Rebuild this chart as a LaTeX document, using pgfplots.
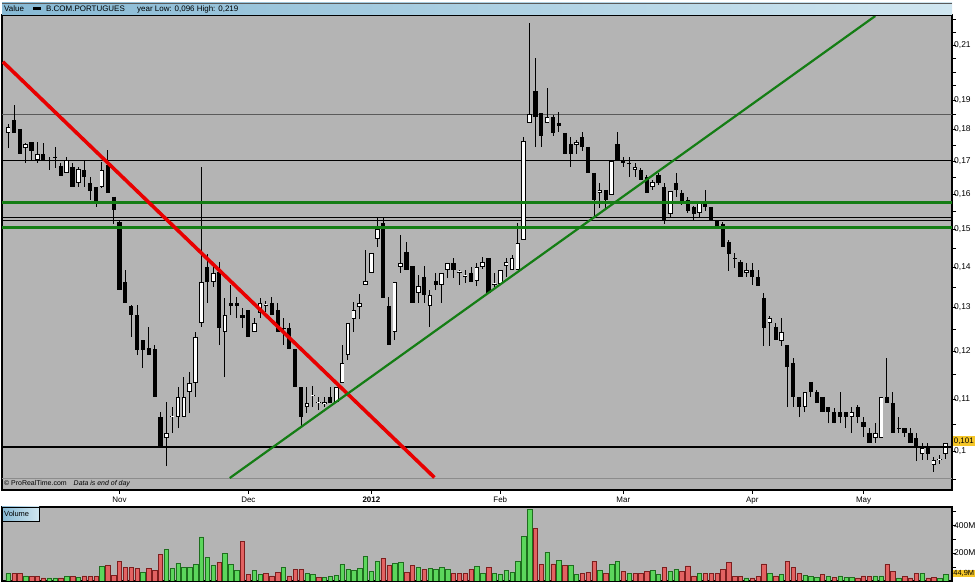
\documentclass[border=0pt]{standalone}
\usepackage{fontspec}
\setmainfont{Liberation Sans}
\usepackage{pgfplots}
\usepackage{pgfplotstable}
\pgfplotsset{compat=1.18}

\definecolor{panel}{RGB}{180,180,180}
\definecolor{hdrL}{RGB}{135,185,212}
\definecolor{hdrR}{RGB}{208,230,240}
\definecolor{lvlgreen}{RGB}{20,125,20}
\definecolor{trendred}{RGB}{232,0,0}
\definecolor{vgreen}{RGB}{92,214,92}
\definecolor{vgreenD}{RGB}{30,110,30}
\definecolor{vred}{RGB}{226,98,98}
\definecolor{vredD}{RGB}{125,30,30}
\definecolor{gold}{RGB}{245,198,40}
\definecolor{midgrey}{RGB}{90,90,90}
\definecolor{lightline}{RGB}{140,140,140}

% i = trading day (0 = 1 Nov 2011), o h l c = open high low close, v = volume (M), g = 1 if volume bar green
\pgfplotstableread{
i o h l c v g
-19 0.1789 0.1818 0.1740 0.1808 52 1
-18 0.1832 0.1883 0.1789 0.1789 56 0
-17 0.1802 0.1802 0.1722 0.1722 52 0
-16 0.1740 0.1756 0.1694 0.1753 37 1
-15 0.1759 0.1759 0.1703 0.1731 32 0
-14 0.1703 0.1759 0.1694 0.1722 32 0
-13 0.1722 0.1756 0.1703 0.1703 23 0
-12 0.1703 0.1713 0.1672 0.1700 23 1
-11 0.1713 0.1744 0.1678 0.1710 23 1
-10 0.1685 0.1694 0.1654 0.1654 23 0
-9 0.1663 0.1713 0.1663 0.1703 32 1
-8 0.1681 0.1694 0.1621 0.1621 32 0
-7 0.1633 0.1681 0.1621 0.1675 27 1
-6 0.1672 0.1703 0.1621 0.1651 37 0
-5 0.1633 0.1651 0.1583 0.1609 32 0
-4 0.1621 0.1621 0.1563 0.1574 32 0
-3 0.1621 0.1697 0.1618 0.1672 105 1
-2 0.1688 0.1734 0.1604 0.1604 112 0
-1 0.1592 0.1592 0.1515 0.1554 40 0
0 0.1520 0.1523 0.1342 0.1342 143 0
1 0.1362 0.1392 0.1311 0.1311 95 0
2 0.1304 0.1306 0.1232 0.1282 95 0
3 0.1282 0.1306 0.1192 0.1203 88 0
4 0.1225 0.1225 0.1164 0.1203 64 1
5 0.1207 0.1255 0.1192 0.1192 88 0
6 0.1205 0.1214 0.1104 0.1104 76 0
7 0.1064 0.1074 0.1007 0.1007 189 0
8 0.1024 0.1094 0.0973 0.1034 225 1
9 0.1064 0.1084 0.1034 0.1066 88 1
10 0.1064 0.1124 0.1043 0.1104 128 1
11 0.1064 0.1145 0.1064 0.1104 95 1
12 0.1114 0.1156 0.1072 0.1133 100 1
13 0.1133 0.1243 0.1104 0.1232 119 1
14 0.1264 0.1681 0.1255 0.1362 316 1
15 0.1400 0.1434 0.1311 0.1362 167 1
16 0.1362 0.1400 0.1350 0.1385 112 1
17 0.1387 0.1413 0.1214 0.1252 136 0
18 0.1243 0.1323 0.1145 0.1282 196 1
19 0.1311 0.1355 0.1282 0.1304 117 1
20 0.1311 0.1325 0.1275 0.1304 76 1
21 0.1282 0.1299 0.1252 0.1275 285 0
22 0.1294 0.1294 0.1232 0.1232 45 0
23 0.1243 0.1275 0.1243 0.1264 76 1
24 0.1287 0.1323 0.1275 0.1311 45 1
25 0.1304 0.1316 0.1290 0.1306 56 0
26 0.1311 0.1325 0.1282 0.1282 37 0
27 0.1294 0.1311 0.1243 0.1243 61 0
28 0.1252 0.1275 0.1214 0.1250 100 1
29 0.1252 0.1264 0.1205 0.1205 37 0
30 0.1205 0.1205 0.1124 0.1124 85 0
31 0.1124 0.1124 0.1045 0.1064 85 0
32 0.1084 0.1124 0.1072 0.1092 52 1
33 0.1106 0.1126 0.1084 0.1108 45 1
34 0.1092 0.1104 0.1078 0.1094 27 0
35 0.1090 0.1104 0.1084 0.1094 27 1
36 0.1104 0.1124 0.1092 0.1092 32 1
37 0.1094 0.1124 0.1094 0.1124 40 1
38 0.1133 0.1214 0.1133 0.1174 117 1
39 0.1192 0.1264 0.1181 0.1264 81 1
40 0.1273 0.1313 0.1243 0.1294 76 1
41 0.1301 0.1332 0.1273 0.1311 88 1
42 0.1355 0.1444 0.1355 0.1365 179 1
43 0.1385 0.1436 0.1385 0.1436 69 1
44 0.1474 0.1532 0.1452 0.1501 141 1
45 0.1518 0.1532 0.1323 0.1323 160 0
46 0.1304 0.1325 0.1214 0.1214 112 0
47 0.1243 0.1362 0.1225 0.1362 128 1
48 0.1400 0.1485 0.1385 0.1410 133 1
49 0.1439 0.1466 0.1392 0.1392 61 0
50 0.1402 0.1402 0.1311 0.1311 112 0
51 0.1335 0.1380 0.1311 0.1352 100 1
52 0.1375 0.1402 0.1311 0.1330 81 0
53 0.1304 0.1342 0.1255 0.1330 88 1
54 0.1365 0.1385 0.1342 0.1355 81 1
55 0.1355 0.1385 0.1311 0.1385 95 1
56 0.1392 0.1410 0.1372 0.1410 85 1
57 0.1410 0.1423 0.1372 0.1392 56 0
58 0.1385 0.1392 0.1355 0.1387 52 0
59 0.1375 0.1392 0.1360 0.1377 52 0
60 0.1385 0.1400 0.1362 0.1362 81 0
61 0.1365 0.1410 0.1352 0.1400 105 1
62 0.1400 0.1426 0.1395 0.1413 56 1
63 0.1423 0.1423 0.1335 0.1335 100 0
64 0.1355 0.1385 0.1350 0.1357 52 1
65 0.1357 0.1392 0.1357 0.1392 47 1
66 0.1402 0.1423 0.1375 0.1413 76 1
67 0.1392 0.1431 0.1392 0.1423 61 1
68 0.1392 0.1518 0.1392 0.1463 143 1
69 0.1471 0.1776 0.1471 0.1763 321 1
70 0.1822 0.2187 0.1822 0.1852 514 1
71 0.1931 0.2052 0.1744 0.1842 376 0
72 0.1855 0.1855 0.1744 0.1779 119 0
73 0.1822 0.1942 0.1822 0.1842 205 1
74 0.1842 0.1848 0.1779 0.1789 123 0
75 0.1822 0.1858 0.1792 0.1812 148 1
76 0.1789 0.1789 0.1722 0.1722 114 0
77 0.1753 0.1776 0.1681 0.1722 114 1
78 0.1750 0.1766 0.1722 0.1759 47 1
79 0.1776 0.1792 0.1731 0.1744 56 0
80 0.1744 0.1744 0.1663 0.1663 64 0
81 0.1663 0.1663 0.1534 0.1583 141 0
82 0.1604 0.1633 0.1560 0.1612 76 1
83 0.1612 0.1612 0.1554 0.1583 56 0
84 0.1598 0.1700 0.1598 0.1700 119 1
85 0.1753 0.1792 0.1700 0.1700 141 1
86 0.1700 0.1713 0.1681 0.1694 69 0
87 0.1694 0.1713 0.1651 0.1692 56 1
88 0.1672 0.1694 0.1651 0.1681 56 0
89 0.1672 0.1678 0.1642 0.1642 56 0
90 0.1651 0.1657 0.1604 0.1604 69 0
91 0.1621 0.1642 0.1612 0.1636 76 1
92 0.1657 0.1663 0.1627 0.1633 47 1
93 0.1621 0.1633 0.1515 0.1526 95 0
94 0.1543 0.1609 0.1534 0.1609 69 1
95 0.1633 0.1663 0.1592 0.1612 85 1
96 0.1604 0.1612 0.1569 0.1577 69 0
97 0.1583 0.1592 0.1546 0.1551 109 0
98 0.1563 0.1566 0.1526 0.1543 37 0
99 0.1546 0.1577 0.1534 0.1574 56 1
100 0.1580 0.1612 0.1551 0.1563 56 0
101 0.1563 0.1563 0.1526 0.1526 56 0
102 0.1523 0.1523 0.1507 0.1507 56 0
103 0.1515 0.1520 0.1452 0.1452 81 0
104 0.1466 0.1471 0.1390 0.1434 133 0
105 0.1423 0.1436 0.1397 0.1421 32 0
106 0.1413 0.1418 0.1375 0.1375 32 0
107 0.1385 0.1410 0.1375 0.1392 23 1
108 0.1392 0.1410 0.1355 0.1375 23 0
109 0.1375 0.1392 0.1352 0.1352 32 0
110 0.1323 0.1335 0.1212 0.1252 123 0
111 0.1264 0.1280 0.1212 0.1275 52 1
112 0.1255 0.1264 0.1225 0.1225 37 0
113 0.1223 0.1275 0.1212 0.1243 47 1
114 0.1214 0.1214 0.1084 0.1166 143 0
115 0.1174 0.1185 0.1084 0.1104 95 0
116 0.1104 0.1104 0.1064 0.1084 56 0
117 0.1084 0.1114 0.1074 0.1114 40 1
118 0.1135 0.1135 0.1104 0.1114 32 1
119 0.1114 0.1118 0.1092 0.1092 27 1
120 0.1104 0.1104 0.1074 0.1074 47 0
121 0.1084 0.1084 0.1052 0.1074 32 1
122 0.1074 0.1082 0.1052 0.1052 27 0
123 0.1074 0.1114 0.1052 0.1064 37 1
124 0.1074 0.1074 0.1043 0.1064 27 1
125 0.1064 0.1084 0.1034 0.1074 27 1
126 0.1084 0.1088 0.1052 0.1064 23 0
127 0.1054 0.1064 0.1026 0.1045 37 0
128 0.1034 0.1043 0.1015 0.1015 32 0
129 0.1024 0.1052 0.1015 0.1034 37 1
130 0.1024 0.1104 0.1024 0.1104 37 1
131 0.1104 0.1185 0.1092 0.1092 119 0
132 0.1092 0.1114 0.1034 0.1034 69 0
133 0.1043 0.1064 0.1034 0.1041 23 1
134 0.1043 0.1043 0.1026 0.1034 32 0
135 0.1034 0.1043 0.1015 0.1015 23 0
136 0.1024 0.1034 0.0982 0.1006 56 0
137 0.0995 0.1015 0.0984 0.1006 56 1
138 0.1006 0.1015 0.0984 0.0995 23 0
139 0.0975 0.0989 0.0963 0.0984 27 0
140 0.0984 0.0993 0.0977 0.0986 18 1
141 0.0995 0.1015 0.0986 0.1015 45 1
}\candles

\pgfplotsset{
  chartfont/.style={font=\fontsize{8}{9}\selectfont},
  yfont/.style={font=\fontsize{8.5}{9}\selectfont},
  candle/.style={draw=none, mark=none, error bars/y explicit, error bars/error mark=none},
}

\begin{document}
\begin{tikzpicture}
\fill[white] (0,0) rectangle (975bp,583bp);
\path[use as bounding box] (0,0) rectangle (975bp,583bp);

% ---- price panel (log scale) ----
\begin{axis}[
  at={(2bp,93bp)}, anchor=south west,
  scale only axis, width=950bp, height=475bp,
  xmin=-20.05, xmax=142.1,
  ymode=log, ymin=0.09314, ymax=0.22191,
  axis background/.style={fill=panel},
  axis line style={black, line width=1.2bp},
  tick align=outside, xtick pos=bottom, ytick pos=right, yticklabel pos=right,
  major tick length=4bp, minor tick length=4bp,
  tick style={black, line width=0.6bp},
  xtick={0,22,43,65,86,108,127},
  xticklabels={Nov,Dec,\textbf{2012},Feb,Mar,Apr,May},
  ytick={0.10,0.11,0.12,0.13,0.14,0.15,0.16,0.17,0.18,0.19,0.20,0.21,0.22},
  yticklabels={{0,1},{0,11},{0,12},{0,13},{0,14},{0,15},{0,16},{0,17},{0,18},{0,19},{},{0,21},{}},
  minor ytick={0.095,0.105,0.115,0.125,0.135,0.145,0.155,0.165,0.175,0.185,0.195,0.205,0.215},
  xticklabel style={chartfont, yshift=1bp},
  yticklabel style={yfont, anchor=west, xshift=-3bp, inner sep=1bp},
]
% level lines
\addplot[midgrey, line width=1bp] coordinates {(-20.05,0.1852) (142.1,0.1852)};
\addplot[black, line width=0.8bp] coordinates {(-20.05,0.1700) (142.1,0.1700)};
\addplot[black, line width=0.8bp] coordinates {(-20.05,0.1533) (142.1,0.1533)};
\addplot[black, line width=0.8bp] coordinates {(-20.05,0.1524) (142.1,0.1524)};
\addplot[lightline, line width=0.8bp] coordinates {(-20.05,0.0952) (142.1,0.0952)};

% wicks
\addplot[candle, error bars/.cd, y dir=plus,
  error bar style={draw=black, line width=1bp}]
  table[x=i, y=l, y error expr=\thisrow{h}-\thisrow{l}] {\candles};
% falling candles
\addplot[candle,
  x filter/.expression={\thisrow{c}<\thisrow{o} ? x : nan},
  error bars/.cd, y dir=minus,
  error bar style={draw=black, line width=4.2bp, line cap=butt}]
  table[x=i, y=o, y error expr=\thisrow{o}-\thisrow{c}] {\candles};
% rising candles: black outline, white fill
\addplot[candle,
  x filter/.expression={\thisrow{c}<\thisrow{o} ? nan : x},
  error bars/.cd, y dir=minus,
  error bar style={draw=black, line width=4.6bp, line cap=butt}]
  table[x=i, y=c, y error expr=\thisrow{c}-\thisrow{o}] {\candles};
\addplot[candle,
  x filter/.expression={\thisrow{c}<\thisrow{o} ? nan : x},
  error bars/.cd, y dir=minus,
  error bar style={draw=white, line width=2.8bp, line cap=butt, shorten <=0.9bp, shorten >=0.9bp}]
  table[x=i, y=c, y error expr=\thisrow{c}-\thisrow{o}] {\candles};

% support / resistance and trend lines
\addplot[lvlgreen, line width=3bp] coordinates {(-20.05,0.1574) (142.1,0.1574)};
\addplot[lvlgreen, line width=3bp] coordinates {(-20.05,0.1505) (142.1,0.1505)};
\addplot[black, line width=2.2bp] coordinates {(-20.05,0.1007) (142.1,0.1007)};
\addplot[trendred, line width=3.6bp] coordinates {(-19.9,0.2037) (53.75,0.0953)};
\addplot[lvlgreen, line width=2.2bp] coordinates {(18.82,0.0952) (129.0,0.2215)};

\node[anchor=south west, inner sep=0pt, font=\fontsize{7}{8}\selectfont]
  at (rel axis cs:0.002,0.005) {© ProRealTime.com\hspace{7bp}\textit{Data is end of day}};
\end{axis}

% ---- volume panel ----
\begin{axis}[
  at={(2bp,2bp)}, anchor=south west,
  scale only axis, width=950bp, height=74bp,
  xmin=-20.05, xmax=142.1, ymin=0, ymax=530,
  axis background/.style={fill=panel},
  axis line style={black, line width=1.2bp},
  tick align=outside, ytick pos=right, yticklabel pos=right,
  xtick=\empty,
  major tick length=4bp,
  tick style={black, line width=0.6bp},
  ytick={100,200,300,400,500},
  yticklabels={{},200M,{},400M,{}},
  yticklabel style={yfont, anchor=west, xshift=-3bp, inner sep=1bp},
]
\addplot[ybar, bar width=4.4bp, bar shift=0pt, fill=vgreen, draw=vgreenD, line width=0.5bp,
  x filter/.expression={\thisrow{g}>0 ? x : nan}]
  table[x=i, y=v] {\candles};
\addplot[ybar, bar width=4.4bp, bar shift=0pt, fill=vred, draw=vredD, line width=0.5bp,
  x filter/.expression={\thisrow{g}>0 ? nan : x}]
  table[x=i, y=v] {\candles};
\end{axis}

% header bar
\shade[left color=hdrL, right color=hdrR] (2bp,568bp) rectangle (952bp,580bp);
\draw[black, line width=0.8bp] (2bp,568bp) -- (952bp,568bp);
\draw[midgrey, line width=0.5bp] (2bp,580bp) -- (952bp,580bp);
\node[anchor=west, inner sep=0pt, font=\fontsize{8}{9}\selectfont] at (4bp,574bp) {Value};
\fill[black] (33bp,573bp) rectangle (41bp,575.5bp);
\node[anchor=west, inner sep=0pt, font=\fontsize{8}{9}\selectfont] at (46bp,574bp) {B.COM.PORTUGUES};
\node[anchor=west, inner sep=0pt, font=\fontsize{8}{9}\selectfont] at (137bp,574bp) {year Low: 0,096 High: 0,219};

% volume label
\shade[left color=hdrL, right color=hdrR, draw=black, line width=0.6bp] (2bp,62bp) rectangle (39bp,76bp);
\node[anchor=west, inner sep=0pt, font=\fontsize{7.5}{9}\selectfont] at (4bp,69bp) {Volume};

% last value boxes
\fill[gold] (952.5bp,137bp) rectangle (975bp,146.5bp);
\node[inner sep=0pt, font=\fontsize{8}{9}\selectfont] at (963.8bp,141.8bp) {0,101};
\fill[gold] (952.5bp,6bp) rectangle (975bp,12.5bp);
\node[inner sep=0pt, font=\fontsize{7.5}{9}\selectfont] at (963.8bp,9.2bp) {44,9M};
\end{tikzpicture}
\end{document}
